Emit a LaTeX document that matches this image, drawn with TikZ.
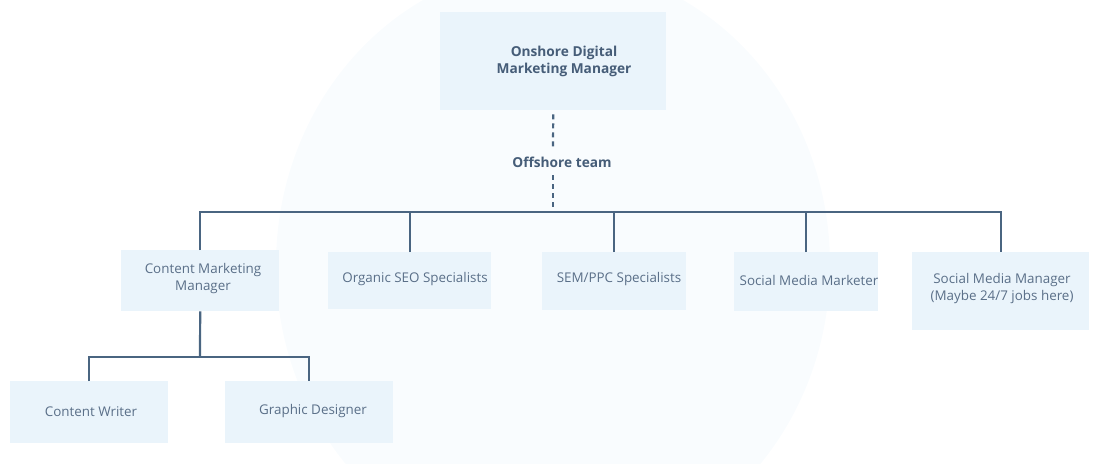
\documentclass[tikz,border=0pt]{standalone}
\usepackage{fontspec}
\setmainfont{Open Sans}
\definecolor{bgell}{HTML}{F9FCFE}
\definecolor{boxfill}{HTML}{EAF4FB}
\definecolor{linec}{HTML}{4A6581}
\definecolor{textc}{HTML}{5A6F88}
\definecolor{boldc}{HTML}{465D78}
\begin{document}
\begin{tikzpicture}[x=1pt,y=-1pt,
  boxstyle/.style={fill=boxfill, draw=none, inner sep=0pt, anchor=north west},
  lbl/.style={text=textc, font=\fontsize{13.4}{17}\selectfont, align=center, inner sep=0pt},
  blbl/.style={text=boldc, font=\fontsize{13.7}{17}\selectfont\bfseries, align=center, inner sep=0pt},
  conn/.style={draw=linec, line width=2.2pt},
  dashline/.style={draw=linec, line width=2.2pt, dash pattern=on 5pt off 4pt}]
\useasboundingbox (0,0) rectangle (1107,463);
\begin{scope}
  \clip (0,0) rectangle (1107,463);
  \fill[bgell] (553,265) ellipse [x radius=277, y radius=300];
\end{scope}
% boxes
\node[boxstyle, minimum width=226pt, minimum height=98pt] (top) at (440,12) {};
\node[boxstyle, minimum width=158pt, minimum height=61pt] (cmm) at (121,250) {};
\node[boxstyle, minimum width=163pt, minimum height=57pt] (seo) at (328,252) {};
\node[boxstyle, minimum width=144pt, minimum height=58pt] (sem) at (542,252) {};
\node[boxstyle, minimum width=144pt, minimum height=59pt] (smm) at (734,252) {};
\node[boxstyle, minimum width=177pt, minimum height=78pt] (smg) at (912,252) {};
\node[boxstyle, minimum width=158pt, minimum height=62pt] (cw) at (10,381) {};
\node[boxstyle, minimum width=168pt, minimum height=62pt] (gd) at (225,381) {};
% texts
\node[blbl] (ttop) at (564,61.5) {Onshore Digital\\Marketing Manager};
\node[blbl] (off) at (562,162.5) {Offshore team};
\node[lbl] (tcmm) at (203,279) {Content Marketing\\Manager};
\node[lbl] (tseo) at (415,279.5) {Organic SEO Specialists};
\node[lbl] (tsem) at (619,279.5) {SEM/PPC Specialists};
\node[lbl] (tsmm) at (809,280.5) {Social Media Marketer};
\node[lbl] (tsmg) at (1002,289) {Social Media Manager\\(Maybe 24/7 jobs here)};
\node[lbl] (tcw) at (91,411.5) {Content Writer};
\node[lbl] (tgd) at (313,411.5) {Graphic Designer};
% connectors
\coordinate (d1) at (553,150);
\coordinate (d2) at (553,175);
\coordinate (bus) at (553,212);
\coordinate (kid) at (200,357);
\draw[dashline] ([yshift=-4pt]top.south) -- (d1);
\draw[dashline] (d2) -- (bus);
\draw[conn] (cmm.north) -- (cmm.north |- bus) -- (smg.north |- bus) -- (smg.north);
\draw[conn] (seo.north) -- (seo.north |- bus);
\draw[conn] (sem.north) -- (sem.north |- bus);
\draw[conn] (smm.north) -- (smm.north |- bus);
\draw[conn] (cmm.south) -- (kid);
\draw[conn] (cw.north) -- (cw.north |- kid) -- (gd.north |- kid) -- (gd.north);
\end{tikzpicture}
\end{document}
